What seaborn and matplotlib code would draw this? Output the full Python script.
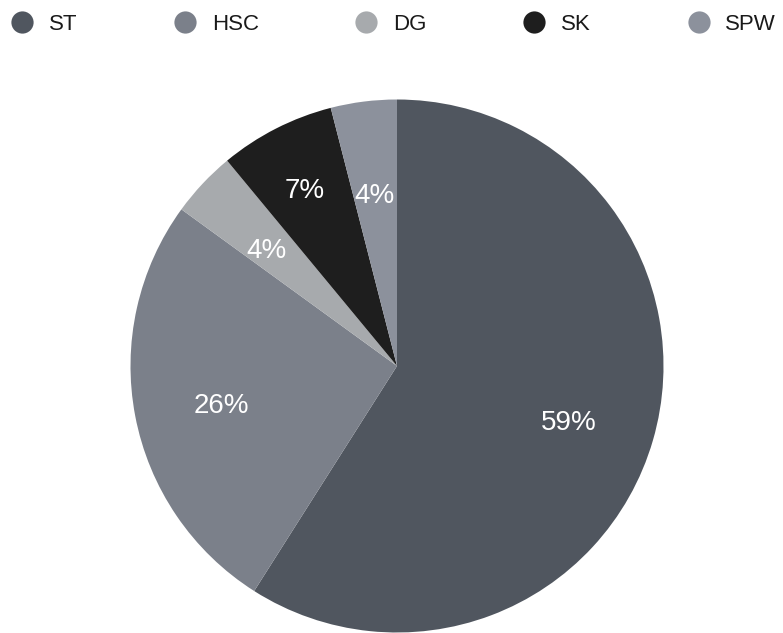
import matplotlib
matplotlib.use("Agg")
import matplotlib.pyplot as plt
from matplotlib.lines import Line2D
import numpy as np
import seaborn as sns

categories = ["ST", "HSC", "DG", "SK", "SPW"]
values = [59, 26, 4, 7, 4]
colors = ["#50565f", "#7b808a", "#a7aaad", "#1e1e1e", "#8c919c"]

sns.set_theme(style="white")
plt.rcParams["font.family"] = ["Liberation Sans", "DejaVu Sans"]

W, H = 783, 633
fig = plt.figure(figsize=(W / 100, H / 100), dpi=100)
cx, cy, r = 397, 366, 266.5
ax = fig.add_axes([(cx - r) / W, (H - cy - r) / H, 2 * r / W, 2 * r / H])

wedges, texts, autotexts = ax.pie(
    values, colors=colors, startangle=90, counterclock=False,
    autopct="%1.0f%%", pctdistance=0.67, radius=1,
    wedgeprops=dict(linewidth=0),
    textprops=dict(color="white", fontsize=20),
)
ax.set_xlim(-1, 1)
ax.set_ylim(-1, 1)
ax.set_aspect("equal")
ax.axis("off")

# label placement: glyph centre slightly below the radial point; SK label pushed outward
dist = {3: 0.765}
for i, (w, t) in enumerate(zip(wedges, autotexts)):
    ang = np.deg2rad((w.theta1 + w.theta2) / 2)
    d = dist.get(i, 0.67)
    t.set_position((d * np.cos(ang), d * np.sin(ang) - 14 / r))
    t.set_va("baseline")
    t.set_ha("center")

handles = [Line2D([0], [0], marker="o", linestyle="", markersize=16,
                  markerfacecolor=c, markeredgewidth=0) for c in colors]
fig.legend(handles, categories, loc="upper left",
           bbox_to_anchor=(11 / W, 1 - 14 / H), ncol=5, frameon=False,
           fontsize=16, handlelength=1.0, handletextpad=0.7,
           columnspacing=4.35, borderpad=0, borderaxespad=0,
           labelcolor="#1a1a1a")

fig.savefig("out.png", dpi=100)
